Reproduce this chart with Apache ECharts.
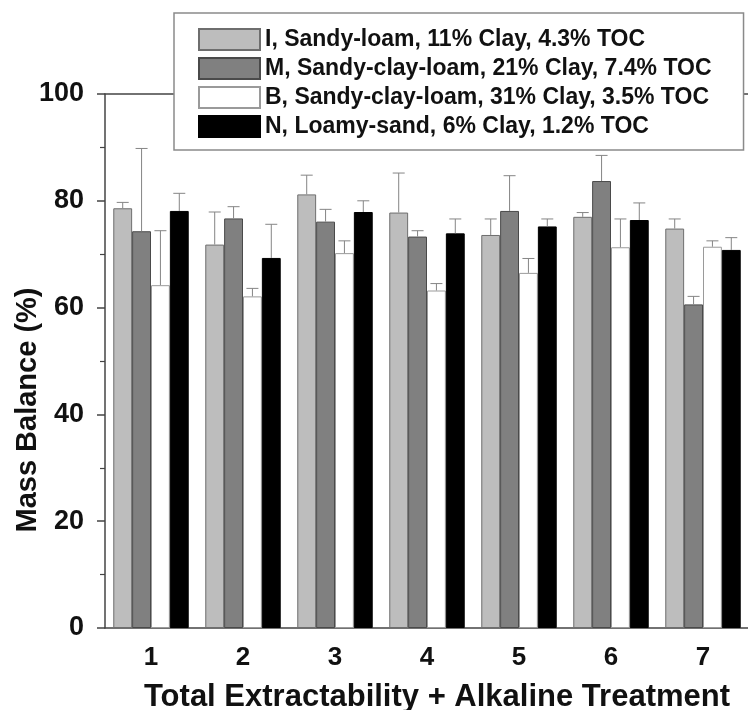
<!DOCTYPE html>
<html>
<head>
<meta charset="utf-8">
<script src="https://cdn.jsdelivr.net/npm/echarts@6/dist/echarts.min.js"></script>
<style>
html,body{margin:0;padding:0;background:#fff;}
#chart{width:748px;height:710px;}
</style>
</head>
<body>
<div id="chart"></div>
<script>
const categories = ['1', '2', '3', '4', '5', '6', '7'];
const seriesNames = [
  'I, Sandy-loam, 11% Clay, 4.3% TOC',
  'M, Sandy-clay-loam, 21% Clay, 7.4% TOC',
  'B, Sandy-clay-loam, 31% Clay, 3.5% TOC',
  'N, Loamy-sand, 6% Clay, 1.2% TOC'
];
const valuesI = [78.6, 71.8, 81.2, 77.8, 73.6, 77.0, 74.8];
const errorsI = [1.1, 6.1, 3.6, 7.4, 3.0, 0.8, 1.8];
const valuesM = [74.3, 76.7, 76.1, 73.3, 78.1, 83.7, 60.6];
const errorsM = [15.5, 2.2, 2.3, 1.1, 6.6, 4.8, 1.5];
const valuesB = [64.2, 62.1, 70.2, 63.2, 66.5, 71.3, 71.4];
const errorsB = [10.2, 1.5, 2.3, 1.3, 2.7, 5.3, 1.1];
const valuesN = [78.1, 69.3, 77.9, 73.9, 75.2, 76.4, 70.8];
const errorsN = [3.3, 6.3, 2.1, 2.7, 1.4, 3.2, 2.3];
const yTicks = [0, 20, 40, 60, 80, 100];

const allValues = [valuesI, valuesM, valuesB, valuesN];
const allErrors = [errorsI, errorsM, errorsB, errorsN];
const fills = ['#bdbdbd', '#808080', '#ffffff', '#000000'];
const borders = ['#6e6e6e', '#4a4a4a', '#9a9a9a', '#000000'];
const CAT_GAP = 0.18;
const FONT = 'Liberation Sans';

const chart = echarts.init(document.getElementById('chart'), null, {renderer: 'canvas'});

const barSeries = seriesNames.map((name, i) => ({
  name: name,
  type: 'bar',
  data: allValues[i],
  barGap: '0%',
  barCategoryGap: (CAT_GAP * 100) + '%',
  itemStyle: {color: fills[i], borderColor: borders[i], borderWidth: 1},
  emphasis: {disabled: true},
  z: 2
}));

const errSeries = seriesNames.map((name, i) => ({
  name: 'err' + i,
  type: 'custom',
  data: categories.map((c, k) => [k, allValues[i][k], allErrors[i][k]]),
  encode: {x: 0, y: 1},
  z: 3,
  silent: true,
  renderItem: function (params, api) {
    const k = api.value(0), v = api.value(1), e = api.value(2);
    const base = api.coord([k, v]);
    const top = api.coord([k, v + e]);
    const band = api.size([1, 0])[0];
    const bw = band * (1 - CAT_GAP) / 4;
    const x = base[0] + (i - 1.5) * bw;
    const st = {stroke: '#858585', lineWidth: 1};
    return {
      type: 'group',
      children: [
        {type: 'line', shape: {x1: x, y1: base[1], x2: x, y2: top[1]}, style: st},
        {type: 'line', shape: {x1: x - 6, y1: top[1], x2: x + 6, y2: top[1]}, style: st}
      ]
    };
  }
}));

const option = {
  animation: false,
  backgroundColor: '#ffffff',
  grid: {left: 105, top: 94, width: 644, height: 534, containLabel: false, outerBoundsMode: 'none'},
  legend: {
    data: seriesNames,
    orient: 'vertical',
    left: 174,
    top: 13,
    icon: 'rect',
    itemWidth: 61,
    itemHeight: 21,
    itemGap: 6,
    padding: [15, 32, 12, 24],
    backgroundColor: '#ffffff',
    borderColor: '#8a8a8a',
    borderWidth: 1.5,
    selectedMode: false,
    textStyle: {fontFamily: FONT, fontWeight: 'bold', fontSize: 23, color: '#111'}
  },
  xAxis: [{
    type: 'category',
    data: categories,
    position: 'bottom',
    name: 'Total Extractability + Alkaline Treatment',
    nameLocation: 'middle',
    nameGap: 54,
    nameMoveOverlap: false,
    nameTextStyle: {fontFamily: FONT, fontWeight: 'bold', fontSize: 31, color: '#111', padding: [0, 0, 0, 20]},
    axisLine: {lineStyle: {color: '#444', width: 1.5}},
    axisTick: {alignWithLabel: true, inside: false, length: 6, lineStyle: {color: '#444', width: 1.5}},
    axisLabel: {fontFamily: FONT, fontWeight: 'bold', fontSize: 26, color: '#111', margin: 17}
  }, {
    type: 'category',
    data: categories,
    position: 'top',
    axisLine: {lineStyle: {color: '#444', width: 1.5}},
    axisTick: {show: false},
    axisLabel: {show: false}
  }],
  yAxis: {
    type: 'value',
    min: yTicks[0],
    max: yTicks[yTicks.length - 1],
    interval: 20,
    name: 'Mass Balance (%)',
    nameLocation: 'middle',
    nameRotate: 90,
    nameGap: 63,
    nameMoveOverlap: false,
    nameTextStyle: {fontFamily: FONT, fontWeight: 'bold', fontSize: 29, color: '#111', padding: [0, 98, 0, 0]},
    axisLine: {show: true, lineStyle: {color: '#444', width: 1.5}},
    axisTick: {show: true, length: 8, lineStyle: {color: '#444', width: 1.5}},
    minorTick: {show: true, splitNumber: 2, length: 5, lineStyle: {color: '#444', width: 1.2}},
    splitLine: {show: false},
    axisLabel: {fontFamily: FONT, fontWeight: 'bold', fontSize: 27, color: '#111', margin: 21}
  },
  series: barSeries.concat(errSeries)
};
chart.setOption(option);
</script>
</body>
</html>
